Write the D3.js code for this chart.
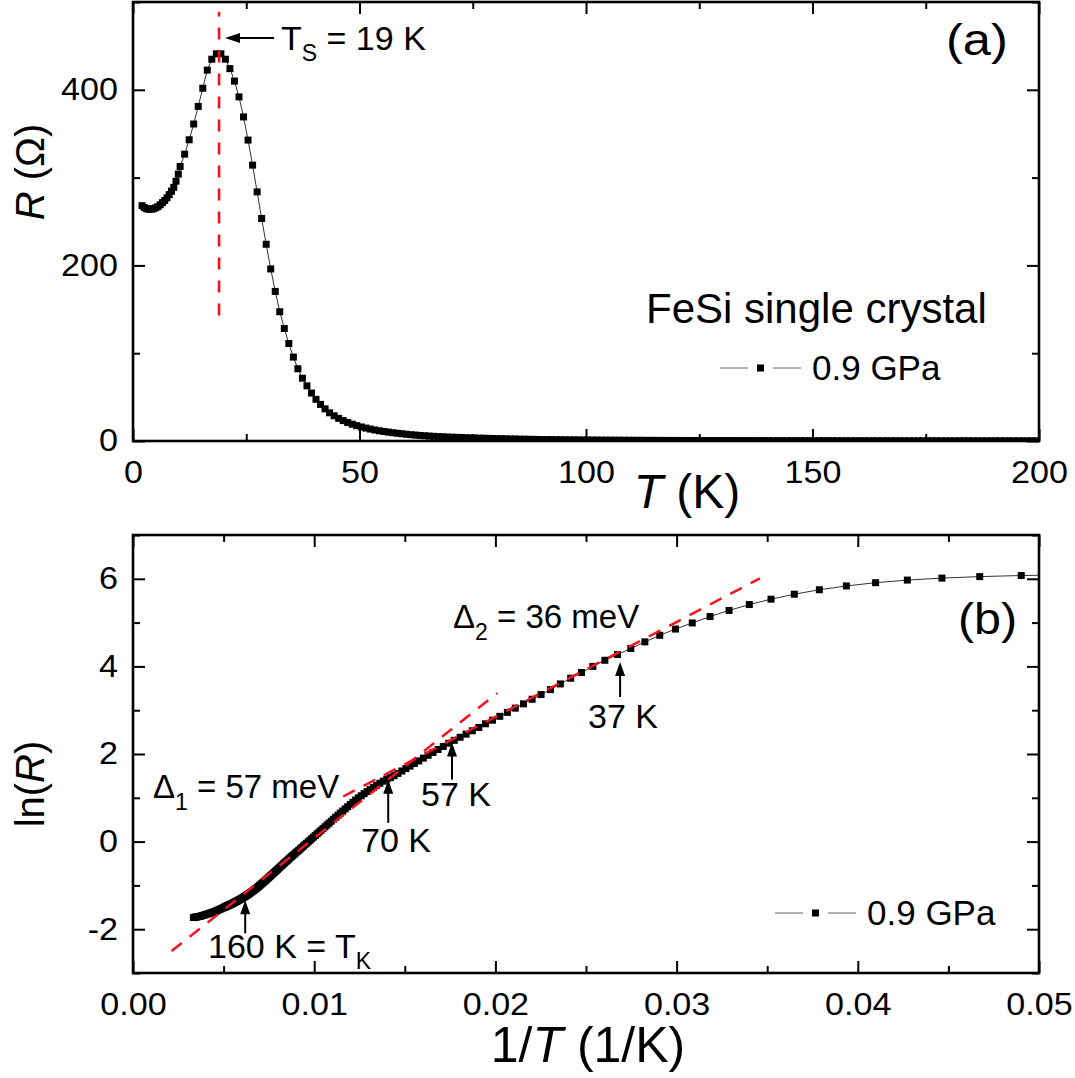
<!DOCTYPE html>
<html><head><meta charset="utf-8">
<script src="https://cdn.jsdelivr.net/npm/d3@7"></script>
<style>
body{margin:0;background:#fff}
svg{display:block}
text{font-family:"Liberation Sans",Arial,Helvetica,sans-serif;fill:#000}
</style>
</head><body>
<svg id="c" width="1075" height="1078"></svg>
<script>
// ---------------- DATA ----------------
// Temperature grid (K) of the 0.9 GPa measurement
const T = [
 2,2.5,3,3.5,4,4.5,5,5.5,6,6.5,7,7.5,8,8.5,9,9.5,10,
 10.4,11.4,12.4,13.4,14.4,15.4,16.4,17.4,18.4,19.4,
 20.4,21.4,22.4,23.4,24.4,25.4,26.4,27.4,28.4,29.4,
 30.4,31.4,32.4,33.4,34.4,35.4,36.4,37.4,38.4,39.4,
 40.4,41.4,42.4,43.4,44.4,45.4,46.4,47.4,48.4,49.4,
 50.4,51.4,52.4,53.4,54.4,55.4,56.4,57.4,58.4,59.4,
 60.4,61.4,62.4,63.4,64.4,65.4,66.4,67.4,68.4,69.4,
 70.4,71.4,72.4,73.4,74.4,75.4,76.4,77.4,78.4,79.4,
 80.4,81.4,82.4,83.4,84.4,85.4,86.4,87.4,88.4,89.4,
 90.4,91.4,92.4,93.4,94.4,95.4,96.4,97.4,98.4,99.4,
 100.4,101.4,102.4,103.4,104.4,105.4,106.4,107.4,108.4,109.4,
 110.4,111.4,112.4,113.4,114.4,115.4,116.4,117.4,118.4,119.4,
 120.4,121.4,122.4,123.4,124.4,125.4,126.4,127.4,128.4,129.4,
 130.4,131.4,132.4,133.4,134.4,135.4,136.4,137.4,138.4,139.4,
 140.4,141.4,142.4,143.4,144.4,145.4,146.4,147.4,148.4,149.4,
 150.4,151.4,152.4,153.4,154.4,155.4,156.4,157.4,158.4,159.4,
 160.4,161.4,162.4,163.4,164.4,165.4,166.4,167.4,168.4,169.4,
 170.4,171.4,172.4,173.4,174.4,175.4,176.4,177.4,178.4,179.4,
 180.4,181.4,182.4,183.4,184.4,185.4,186.4,187.4,188.4,189.4,
 190.4,191.4,192.4,193.4,194.4,195.4,196.4,197.4,198.4,199.4,
 202,205,208,211,214,217,220,224,228,232,236,240,
 245,250,255,260,265,270,275,280,285,290,295,300
];
// ln(R / Ohm) at each temperature
const lnR = [
 5.591,5.583,5.578,5.576,5.576,5.578,5.582,5.587,5.595,5.604,5.613,5.624,5.637,5.651,5.666,5.690,5.717,
 5.745,5.789,5.838,5.889,5.943,5.996,6.046,6.075,6.089,6.089,
 6.075,6.050,6.016,5.971,5.911,5.837,5.750,5.648,5.535,5.412,
 5.278,5.138,4.992,4.853,4.71,4.56,4.41,4.27,4.14,4.00,
 3.86,3.73,3.60,3.47,3.357,3.250,3.145,3.047,2.951,2.860,
 2.772,2.690,2.607,2.530,2.454,2.382,2.312,2.245,2.173,2.104,
 2.036,1.970,1.906,1.842,1.783,1.724,1.667,1.612,1.557,1.505,
 1.460,1.427,1.380,1.332,1.283,1.235,1.188,1.142,1.095,1.046,
 0.999,0.949,0.897,0.846,0.796,0.747,0.698,0.651,0.603,0.556,
 0.510,0.466,0.422,0.379,0.337,0.296,0.256,0.217,0.178,0.140,
 0.103,0.067,0.031,-0.004,-0.038,-0.071,-0.105,-0.137,-0.169,-0.200,
 -0.230,-0.259,-0.288,-0.316,-0.344,-0.372,-0.400,-0.428,-0.455,-0.482,
 -0.509,-0.535,-0.560,-0.585,-0.610,-0.635,-0.659,-0.682,-0.706,-0.729,
 -0.751,-0.773,-0.795,-0.817,-0.838,-0.859,-0.879,-0.899,-0.918,-0.937,
 -0.955,-0.973,-0.991,-1.008,-1.026,-1.043,-1.060,-1.074,-1.088,-1.102,
 -1.115,-1.129,-1.142,-1.155,-1.167,-1.180,-1.193,-1.204,-1.215,-1.225,
 -1.235,-1.245,-1.255,-1.265,-1.275,-1.285,-1.294,-1.303,-1.313,-1.322,
 -1.329,-1.337,-1.344,-1.351,-1.358,-1.366,-1.372,-1.379,-1.386,-1.393,
 -1.400,-1.406,-1.413,-1.419,-1.425,-1.431,-1.437,-1.442,-1.448,-1.453,
 -1.459,-1.464,-1.469,-1.475,-1.480,-1.485,-1.490,-1.495,-1.500,-1.505,
 -1.517,-1.531,-1.544,-1.556,-1.569,-1.581,-1.592,-1.604,-1.615,-1.626,-1.636,-1.646,
 -1.658,-1.668,-1.678,-1.687,-1.696,-1.705,-1.710,-1.715,-1.720,-1.725,-1.730,-1.735
];
// Transition temperature marker (panel a): T (K), R range (Ohm)
const tsT = 19, tsR = [143, 489];
// Activation fits (panel b): 1/T endpoints and ln(R) endpoints
const fit1U = [0.00213, 0.0201], fit1L = [-2.50, 3.39];   // Delta1 = 57 meV
const fit2U = [0.0116, 0.0346],  fit2L = [1.03, 6.01];    // Delta2 = 36 meV
// Arrow markers (panel b): temperature and ln(R) at arrow tip
const arrowT   = [161.5, 71, 56.8, 37.2];
const arrowLn  = [-1.34, 1.41, 2.26, 4.10];
const arrowLab = ["160 K = T", "70 K", "57 K", "37 K"];
// Tick values
const aXMaj = [0,50,100,150,200], aXMin = [25,75,125,175];
const aYMaj = [0,200,400],        aYMin = [100,300,500];
const bXMaj = [0,0.01,0.02,0.03,0.04,0.05], bXMin = [0.005,0.015,0.025,0.035,0.045];
const bYMaj = [-2,0,2,4,6],       bYMin = [-3,-1,1,3,5,7];

// ---------------- DRAW ----------------
const svg = d3.select("#c");
const RED = "#f0141e";
const SQ = 7;
const pts = T.map((t,i)=>({T:t, ln:lnR[i]}));

const xA = d3.scaleLinear().domain([0,200]).range([133,1039]);
const yA = d3.scaleLinear().domain([0,500]).range([441,2]);
const xB = d3.scaleLinear().domain([0,0.05]).range([133,1039]);
const yB = d3.scaleLinear().domain([-3,7]).range([973,535]);

const defs = svg.append("defs");
defs.append("clipPath").attr("id","clipA").append("rect")
  .attr("x",133).attr("y",2).attr("width",906).attr("height",439);
defs.append("clipPath").attr("id","clipB").append("rect")
  .attr("x",133).attr("y",535).attr("width",906).attr("height",438);

const TICKFONT = 31, SX = 1.1;
const intFmt = d => String(d);

function axes(x, y, xMaj, xMin, yMaj, yMin, xFmt, yFmt) {
  const [xl, xr] = x.range(), [yb, yt] = y.range();
  const g = svg.append("g");
  function clean(s){ s.select(".domain").remove(); s.selectAll("line").attr("stroke","#000").attr("stroke-width",2); }
  g.append("g").attr("transform",`translate(0,${yb})`)
    .call(d3.axisBottom(x).tickValues(xMin).tickSize(-7).tickFormat("")).call(clean);
  const bx = g.append("g").attr("transform",`translate(0,${yb})`)
    .call(d3.axisBottom(x).tickValues(xMaj).tickSize(-12).tickPadding(20).tickFormat(xFmt)).call(clean);
  bx.selectAll("text").attr("font-size",TICKFONT).attr("font-family",null)
    .attr("transform",`scale(${SX},1)`);
  g.append("g").attr("transform",`translate(0,${yt})`)
    .call(d3.axisTop(x).tickValues(xMin).tickSize(-7).tickFormat("")).call(clean);
  g.append("g").attr("transform",`translate(0,${yt})`)
    .call(d3.axisTop(x).tickValues(xMaj).tickSize(-12).tickFormat("")).call(clean);
  g.append("g").attr("transform",`translate(${xl},0)`)
    .call(d3.axisLeft(y).tickValues(yMin).tickSize(-7).tickFormat("")).call(clean);
  const ly = g.append("g").attr("transform",`translate(${xl},0)`)
    .call(d3.axisLeft(y).tickValues(yMaj).tickSize(-12).tickPadding(15).tickFormat(yFmt)).call(clean);
  ly.selectAll("text").attr("font-size",TICKFONT).attr("font-family",null)
    .attr("x",-15/SX).attr("transform",`scale(${SX},1)`);
  g.append("g").attr("transform",`translate(${xr},0)`)
    .call(d3.axisRight(y).tickValues(yMin).tickSize(-7).tickFormat("")).call(clean);
  g.append("g").attr("transform",`translate(${xr},0)`)
    .call(d3.axisRight(y).tickValues(yMaj).tickSize(-12).tickFormat("")).call(clean);
  g.append("rect").attr("x",xl).attr("y",yt).attr("width",xr-xl).attr("height",yb-yt)
    .attr("fill","none").attr("stroke","#000").attr("stroke-width",2.6);
}

function arrowHead(g, tipX, tipY, dir, len, half) {
  let p;
  if (dir === "left") p = [[tipX,tipY],[tipX+len,tipY-half],[tipX+len,tipY+half]];
  else p = [[tipX,tipY],[tipX-half,tipY+len],[tipX+half,tipY+len]];
  g.append("path").attr("d", "M"+p.map(q=>q.join(",")).join("L")+"Z").attr("fill","#000");
}

// ===== Panel (a) =====
const gA = svg.append("g").attr("clip-path","url(#clipA)");
const ptsA = pts.filter(d => d.T <= 205);
gA.append("path").datum(ptsA)
  .attr("d", d3.line().x(d=>xA(d.T)).y(d=>yA(Math.exp(d.ln))))
  .attr("fill","none").attr("stroke","#333").attr("stroke-width",1);
gA.selectAll("rect.pt").data(ptsA).enter().append("rect")
  .attr("x",d=>xA(d.T)-SQ/2).attr("y",d=>yA(Math.exp(d.ln))-SQ/2)
  .attr("width",SQ).attr("height",SQ).attr("fill","#000");
gA.append("line")
  .attr("x1",xA(tsT)).attr("x2",xA(tsT)).attr("y1",yA(tsR[0])).attr("y2",yA(tsR[1]))
  .attr("stroke",RED).attr("stroke-width",2.6).attr("stroke-dasharray","12,11");

axes(xA, yA, aXMaj, aXMin, aYMaj, aYMin, intFmt, intFmt);

const annA = svg.append("g");
annA.append("line").attr("x1",236).attr("x2",274).attr("y1",38).attr("y2",38)
  .attr("stroke","#000").attr("stroke-width",2);
arrowHead(annA, 225, 38, "left", 15, 5);
const ts = annA.append("text").attr("x",281).attr("y",50).attr("font-size",34);
ts.append("tspan").text("T");
ts.append("tspan").attr("font-size",23).attr("dy",11).text("S");
ts.append("tspan").attr("dy",-11).text(" = 19 K");

annA.append("text").attr("transform","translate(946,55) scale(1.15,1)").attr("font-size",44).text("(a)");
annA.append("text").attr("x",646).attr("y",323).attr("font-size",42).text("FeSi single crystal");
annA.append("line").attr("x1",720).attr("x2",748).attr("y1",368).attr("y2",368).attr("stroke","#666").attr("stroke-width",1);
annA.append("line").attr("x1",773).attr("x2",801).attr("y1",368).attr("y2",368).attr("stroke","#666").attr("stroke-width",1);
annA.append("rect").attr("x",757).attr("y",364.5).attr("width",7).attr("height",7).attr("fill","#000");
annA.append("text").attr("x",812).attr("y",380).attr("font-size",35).text("0.9 GPa");

const ra = svg.append("text").attr("transform","translate(44,172) rotate(-90)")
  .attr("text-anchor","middle").attr("font-size",40);
ra.append("tspan").attr("font-style","italic").text("R");
ra.append("tspan").text(" (\u03A9)");
const ta = svg.append("text").attr("x",687).attr("y",508).attr("text-anchor","middle").attr("font-size",48);
ta.append("tspan").attr("font-style","italic").text("T");
ta.append("tspan").text(" (K)");

// ===== Panel (b) =====
const gB = svg.append("g").attr("clip-path","url(#clipB)");
gB.append("path").datum(pts)
  .attr("d", d3.line().x(d=>xB(1/d.T)).y(d=>yB(d.ln)))
  .attr("fill","none").attr("stroke","#333").attr("stroke-width",1);
gB.selectAll("rect.pt").data(pts.filter(d=>d.T>=20)).enter().append("rect")
  .attr("x",d=>xB(1/d.T)-SQ/2).attr("y",d=>yB(d.ln)-SQ/2)
  .attr("width",SQ).attr("height",SQ).attr("fill","#000");
gB.append("line").attr("x1",xB(fit1U[0])).attr("x2",xB(fit1U[1]))
  .attr("y1",yB(fit1L[0])).attr("y2",yB(fit1L[1]))
  .attr("stroke",RED).attr("stroke-width",2.5).attr("stroke-dasharray","13,10");
gB.append("line").attr("x1",xB(fit2U[0])).attr("x2",xB(fit2U[1]))
  .attr("y1",yB(fit2L[0])).attr("y2",yB(fit2L[1]))
  .attr("stroke",RED).attr("stroke-width",2.5).attr("stroke-dasharray","13,10");

axes(xB, yB, bXMaj, bXMin, bYMaj, bYMin, d => d.toFixed(2), intFmt);

const annB = svg.append("g");
const arrowLen = [33, 43, 37, 35];
const labPos = [[208,958],[396,852],[456,806],[623,728]];
arrowT.forEach((t,i)=>{
  const x = xB(1/t), y = yB(arrowLn[i]);
  annB.append("line").attr("x1",x).attr("x2",x).attr("y1",y+8).attr("y2",y+arrowLen[i])
    .attr("stroke","#000").attr("stroke-width",2);
  arrowHead(annB, x, y, "up", 14, 5);
  const tx = annB.append("text").attr("x",labPos[i][0]).attr("y",labPos[i][1]).attr("font-size",34)
    .attr("text-anchor", i===0 ? "start" : "middle");
  tx.append("tspan").text(arrowLab[i]);
  if (i===0) tx.append("tspan").attr("font-size",23).attr("dy",11).text("K");
});
const d1 = annB.append("text").attr("x",153).attr("y",798).attr("font-size",33);
d1.append("tspan").text("\u0394");
d1.append("tspan").attr("font-size",23).attr("dy",12).text("1");
d1.append("tspan").attr("dy",-12).text(" = 57 meV");
const d2 = annB.append("text").attr("x",453).attr("y",628).attr("font-size",33);
d2.append("tspan").text("\u0394");
d2.append("tspan").attr("font-size",23).attr("dy",12).text("2");
d2.append("tspan").attr("dy",-12).text(" = 36 meV");
annB.append("text").attr("transform","translate(958,634) scale(1.1,1)").attr("font-size",44).text("(b)");
annB.append("line").attr("x1",775).attr("x2",803).attr("y1",913).attr("y2",913).attr("stroke","#666").attr("stroke-width",1);
annB.append("line").attr("x1",828).attr("x2",856).attr("y1",913).attr("y2",913).attr("stroke","#666").attr("stroke-width",1);
annB.append("rect").attr("x",812).attr("y",909.5).attr("width",7).attr("height",7).attr("fill","#000");
annB.append("text").attr("x",867).attr("y",925).attr("font-size",35).text("0.9 GPa");

const rb = svg.append("text").attr("transform","translate(44,784) rotate(-90)")
  .attr("text-anchor","middle").attr("font-size",40);
rb.append("tspan").text("ln(");
rb.append("tspan").attr("font-style","italic").text("R");
rb.append("tspan").text(")");
const tb = svg.append("text").attr("x",588).attr("y",1062).attr("text-anchor","middle").attr("font-size",50);
tb.append("tspan").text("1/");
tb.append("tspan").attr("font-style","italic").text("T");
tb.append("tspan").text(" (1/K)");
</script>
</body></html>
